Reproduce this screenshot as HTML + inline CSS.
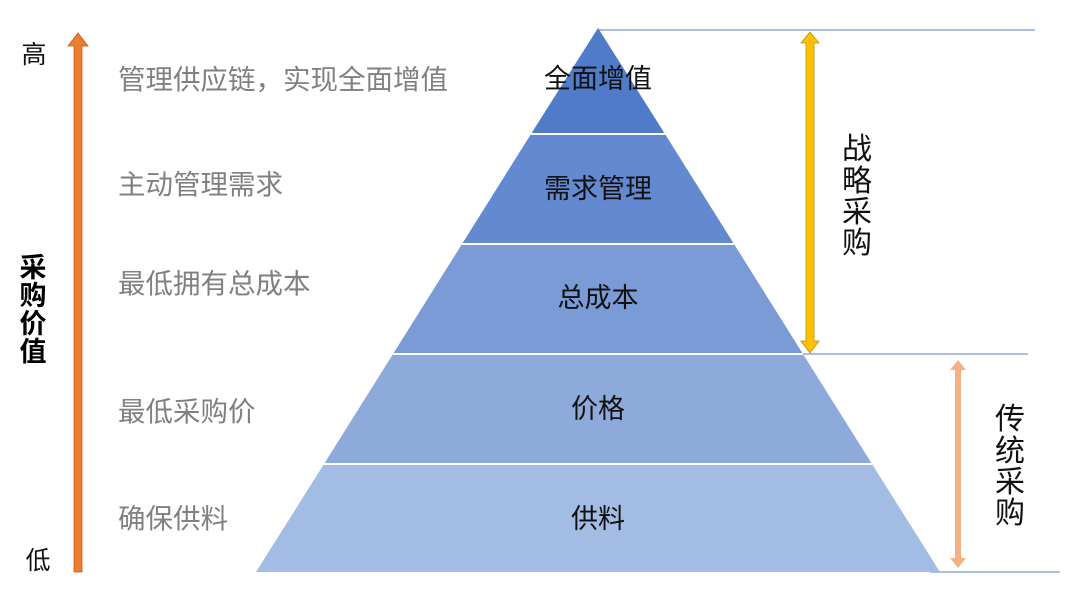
<!DOCTYPE html>
<html><head><meta charset="utf-8"><style>
body{margin:0;background:#fff;}
svg text{font-family:"Liberation Sans","Noto Sans CJK SC",sans-serif;}
</style></head><body>
<svg width="1080" height="607" viewBox="0 0 1080 607" xmlns="http://www.w3.org/2000/svg">
<rect width="1080" height="607" fill="#fff"/>
<line x1="598" y1="30" x2="1035" y2="30" stroke="#8faadc" stroke-width="1.5"/>
<line x1="793" y1="354" x2="1028" y2="354" stroke="#8faadc" stroke-width="1.5"/>
<line x1="930" y1="572" x2="1060" y2="572" stroke="#8faadc" stroke-width="1.5"/>
<polygon points="598,28 665,134 531,134" fill="#4f7bc8"/>
<polygon points="531,134 665,134 734,244 462,244" fill="#6389d0"/>
<polygon points="462,244 734,244 803,354 393,354" fill="#7a9bd5"/>
<polygon points="393,354 803,354 872,464 324,464" fill="#8eaadb"/>
<polygon points="324,464 872,464 940,572 256,572" fill="#a3bce3"/>
<g stroke="#fff" stroke-width="2">
<line x1="531" y1="134" x2="665" y2="134"/>
<line x1="462" y1="244" x2="734" y2="244"/>
<line x1="393" y1="354" x2="803" y2="354"/>
<line x1="324" y1="464" x2="872" y2="464"/>
</g>
<g font-size="27" fill="#111" text-anchor="middle">
<text x="598" y="88">全面增值</text>
<text x="598" y="198">需求管理</text>
<text x="598" y="307">总成本</text>
<text x="598" y="418">价格</text>
<text x="598" y="528">供料</text>
</g>
<g font-size="27.5" fill="#808080">
<text x="118" y="89">管理供应链，实现全面增值</text>
<text x="118" y="194">主动管理需求</text>
<text x="118" y="293">最低拥有总成本</text>
<text x="118" y="421">最低采购价</text>
<text x="118" y="528">确保供料</text>
</g>
<polygon points="78,33 88,46 82,46 82,572 74,572 74,46 68,46" fill="#ed7d31" stroke="#c55a11" stroke-width="0.8"/>
<text x="34" y="63" font-size="25" fill="#111" text-anchor="middle">高</text>
<text x="38" y="569" font-size="25" fill="#111" text-anchor="middle">低</text>
<g font-size="27" font-weight="bold" fill="#000" text-anchor="middle">
<text x="33" y="277">采</text>
<text x="33" y="305">购</text>
<text x="33" y="333">价</text>
<text x="33" y="361">值</text>
</g>
<polygon points="810,32 819,43 814,43 814,341 819,341 810,353 801,341 806,341 806,43 801,43" fill="#ffc000" stroke="#bf9000" stroke-width="0.8"/>
<polygon points="958,360 966,370 961,370 961,558 966,558 958,568 950,558 955,558 955,370 950,370" fill="#f4b183"/>
<g font-size="30" fill="#111" text-anchor="middle">
<text x="857" y="159">战</text>
<text x="857" y="191">略</text>
<text x="857" y="222">采</text>
<text x="857" y="253">购</text>
<text x="1010" y="429">传</text>
<text x="1010" y="461">统</text>
<text x="1010" y="492">采</text>
<text x="1010" y="523">购</text>
</g>
</svg>
</body></html>
